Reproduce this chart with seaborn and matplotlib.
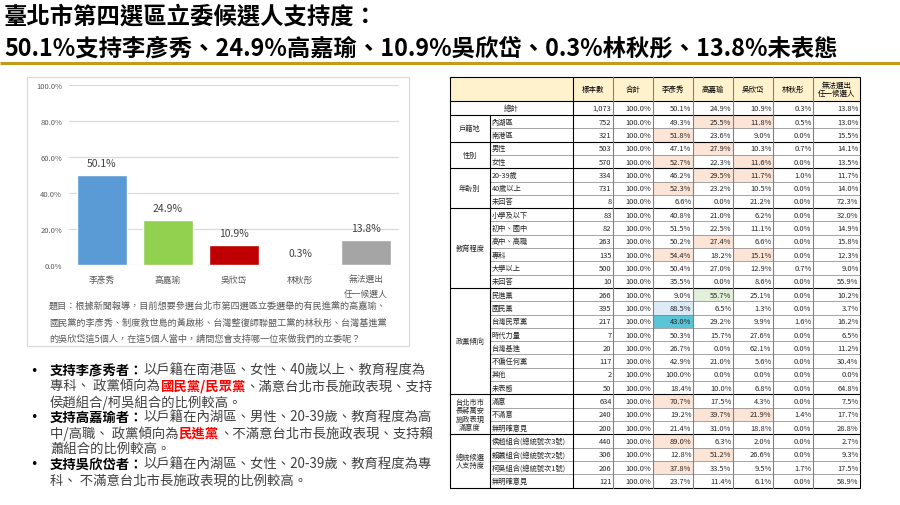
import pandas as pd
import seaborn as sns
import matplotlib.pyplot as plt
from matplotlib.patches import Rectangle

# ---- bar chart data ----
candidates = ["李彥秀", "高嘉瑜", "吳欣岱", "林秋彤", "無法選出\n任一候選人"]
support = [50.1, 24.9, 10.9, 0.3, 13.8]
bar_colors = ["#5B9BD5", "#92D050", "#C00000", "#ED7D31", "#A5A5A5"]

# ---- cross table data ----
col_heads = ["樣本數", "合計", "李彥秀", "高嘉瑜", "吳欣岱", "林秋彤", "無法選出\n任一候選人"]
total_n = 1073
total_pct = [100.0, 50.1, 24.9, 10.9, 0.3, 13.8]
groups = ["戶籍地", "性別", "年齡別", "教育程度", "政黨傾向",
          "台北市市\n長蔣萬安\n施政表現\n滿意度", "總統候選\n人支持度"]
group_sizes = [2, 2, 3, 6, 8, 3, 4]
sub_labels = ["內湖區", "南港區", "男性", "女性", "20-39歲", "40歲以上", "未回答",
              "小學及以下", "初中、國中", "高中、高職", "專科", "大學以上", "未回答",
              "民進黨", "國民黨", "台灣民眾黨", "時代力量", "台灣基進", "不偏任何黨", "其他", "未表態",
              "滿意", "不滿意", "無明確意見",
              "侯趙組合(總統號次3號)", "賴蕭組合(總統號次2號)", "柯吳組合(總統號次1號)", "無明確意見"]
n_sample = [752, 321, 503, 570, 334, 731, 8, 83, 82, 263, 135, 500, 10,
            266, 395, 217, 7, 20, 117, 2, 50, 634, 240, 200, 440, 306, 206, 121]
pct_sum = [100.0] * 28
pct_lee = [49.3, 51.8, 47.1, 52.7, 46.2, 52.3, 6.6, 40.8, 51.5, 50.2, 54.4, 50.4, 35.5,
           9.0, 88.5, 43.0, 50.3, 26.7, 42.9, 100.0, 18.4, 70.7, 19.2, 21.4, 89.0, 12.8, 37.8, 23.7]
pct_kao = [25.5, 23.6, 27.9, 22.3, 29.5, 23.2, 0.0, 21.0, 22.5, 27.4, 18.2, 27.0, 0.0,
           55.7, 6.5, 29.2, 15.7, 0.0, 21.0, 0.0, 10.0, 17.5, 39.7, 31.0, 6.3, 51.2, 33.5, 11.4]
pct_wu = [11.8, 9.0, 10.3, 11.6, 11.7, 10.5, 21.2, 6.2, 11.1, 6.6, 15.1, 12.9, 8.6,
          25.1, 1.3, 9.9, 27.6, 62.1, 5.6, 0.0, 6.8, 4.3, 21.9, 18.8, 2.0, 26.6, 9.5, 6.1]
pct_lin = [0.5, 0.0, 0.7, 0.0, 1.0, 0.0, 0.0, 0.0, 0.0, 0.0, 0.0, 0.7, 0.0,
           0.0, 0.0, 1.6, 0.0, 0.0, 0.0, 0.0, 0.0, 0.0, 1.4, 0.0, 0.0, 0.0, 1.7, 0.0]
pct_none = [13.0, 15.5, 14.1, 13.5, 11.7, 14.0, 72.3, 32.0, 14.9, 15.8, 12.3, 9.0, 55.9,
            10.2, 3.7, 16.2, 6.5, 11.2, 30.4, 0.0, 64.8, 7.5, 17.7, 28.8, 2.7, 9.3, 17.5, 58.9]
# (row, candidate) cells flagged in the source table
flag_peach = [(0, 1), (0, 2), (1, 0), (2, 1), (3, 0), (3, 2), (4, 1), (4, 2), (5, 0),
              (9, 1), (10, 0), (10, 2), (21, 0), (22, 1), (22, 2), (24, 0), (25, 1), (26, 0)]
flag_green = [(13, 1)]
flag_blue = [(14, 0)]
flag_teal = [(15, 0)]

title1 = "臺北市第四選區立委候選人支持度："
title2 = "50.1%支持李彥秀、24.9%高嘉瑜、10.9%吳欣岱、0.3%林秋彤、13.8%未表態"
question = ["題目：根據新聞報導，目前想要參選台北市第四選區立委選舉的有民進黨的高嘉瑜、",
            "國民黨的李彥秀、制度救世島的黃啟彬、台灣整復師聯盟工黨的林秋彤、台灣基進黨",
            "的吳欣岱這5個人，在這5個人當中，請問您會支持哪一位來做我們的立委呢？"]

sns.set_theme(style="white")
plt.rcParams['font.family'] = ['Noto Sans CJK TC', 'DejaVu Sans']

fig = plt.figure(figsize=(9, 5.06), dpi=100)
ov = fig.add_axes([0, 0, 1, 1])
ov.set_xlim(0, 900)
ov.set_ylim(506, 0)
ov.axis('off')
renderer = fig.canvas.get_renderer()

# title + rule
ov.text(4, 17, title1, fontsize=16.8, fontweight='bold', va='center', color='black')
ov.text(4, 49, title2, fontsize=16.8, fontweight='bold', va='center', color='black')
ov.plot([0, 900], [63.5, 63.5], color='#C49A1A', lw=2.2, solid_capstyle='butt')

# chart panel
ov.add_patch(Rectangle((27, 78), 382, 269, fill=False, edgecolor='#D9D9D9', lw=0.8))
for i, line in enumerate(question):
    ov.text(49, 306 + i * 16.8, line, fontsize=6.6, color='#595959', va='center')

# bar chart
ax = fig.add_axes([69 / 900, 1 - 266 / 506, 330 / 900, 180 / 506])
df = pd.DataFrame({"cand": candidates, "pct": support})
sns.barplot(data=df, x="cand", y="pct", hue="cand", palette=bar_colors, legend=False,
            width=0.77, saturation=1, ax=ax)
ax.set_ylim(0, 100)
ax.set_yticks(range(0, 101, 20))
ax.set_yticklabels([f"{v:.1f}%" for v in range(0, 101, 20)])
ax.yaxis.grid(True, color='#D9D9D9', lw=0.8)
ax.set_axisbelow(True)
for s in ax.spines.values():
    s.set_visible(False)
ax.patch.set_alpha(0)
ax.set_xlabel('')
ax.set_ylabel('')
ax.tick_params(axis='y', length=0, labelsize=5.5, labelcolor='#595959', pad=5)
ax.tick_params(axis='x', length=0, labelsize=6.3, labelcolor='#595959', pad=7)
for lab in ax.get_xticklabels():
    lab.set_linespacing(1.7)
    lab.set_verticalalignment('top')
for c in ax.containers:
    ax.bar_label(c, fmt="%.1f%%", padding=5, fontsize=7.5, color='#404040')

# bullets
red = '#FF0000'
txt = '#404040'
bullets = [
    [("支持李彥秀者：", 'black', 'bold'), ("以戶籍在南港區、女性、40歲以上、教育程度為", txt, 'normal')],
    [("專科、 政黨傾向為", txt, 'normal'), ("國民黨/民眾黨", red, 'bold'), ("、滿意台北市長施政表現、支持", txt, 'normal')],
    [("侯趙組合/柯吳組合的比例較高。", txt, 'normal')],
    [("支持高嘉瑜者：", 'black', 'bold'), ("以戶籍在內湖區、男性、20-39歲、教育程度為高", txt, 'normal')],
    [("中/高職、 政黨傾向為", txt, 'normal'), ("民進黨", red, 'bold'), ("、不滿意台北市長施政表現、支持賴", txt, 'normal')],
    [("蕭組合的比例較高。", txt, 'normal')],
    [("支持吳欣岱者：", 'black', 'bold'), ("以戶籍在內湖區、女性、20-39歲、教育程度為專", txt, 'normal')],
    [("科、 不滿意台北市長施政表現的比例較高。", txt, 'normal')],
]
for i, parts in enumerate(bullets):
    y = 371 + i * 15.6
    if i in (0, 3, 6):
        ov.text(30, y, "•", fontsize=9, color='black', va='center', family='DejaVu Sans')
    x = 50
    for s, color, weight in parts:
        t = ov.text(x, y, s, fontsize=9.6, color=color, fontweight=weight, va='center')
        x += t.get_window_extent(renderer).width

# cross table
col_x = [450, 490, 573, 613, 653, 693, 733, 773, 813, 860]
top, head_b, tot_b = 78, 102, 116
row_h = (488.5 - tot_b) / len(sub_labels)
row_y = [tot_b + i * row_h for i in range(len(sub_labels) + 1)]
bottom = row_y[-1]
fs = 5.4

ov.add_patch(Rectangle((col_x[0], top), col_x[-1] - col_x[0], head_b - top, color='#FFF2CC', lw=0))
fills = [(flag_peach, '#FCE4D6'), (flag_green, '#E2EFDA'), (flag_blue, '#DDEBF7'), (flag_teal, '#5BC5D8')]
for cells, colr in fills:
    for r, c in cells:
        ov.add_patch(Rectangle((col_x[4 + c], row_y[r]), col_x[5 + c] - col_x[4 + c], row_h, color=colr, lw=0))

for j, h in enumerate(col_heads):
    ov.text((col_x[2 + j] + col_x[3 + j]) / 2, (top + head_b) / 2, h, fontsize=fs,
            ha='center', va='center', color='black', linespacing=1.1)
ov.text((col_x[0] + col_x[2]) / 2, (head_b + tot_b) / 2, "總計", fontsize=fs, ha='center', va='center')
tot_vals = [f"{total_n:,}"] + [f"{v:.1f}%" for v in total_pct]
for j, v in enumerate(tot_vals):
    ov.text(col_x[3 + j] - 1.5, (head_b + tot_b) / 2, v, fontsize=fs, ha='right', va='center')

cols = [pct_sum, pct_lee, pct_kao, pct_wu, pct_lin, pct_none]
for i, lab in enumerate(sub_labels):
    yc = row_y[i] + row_h / 2
    ov.text(col_x[1] + 1.5, yc, lab, fontsize=fs - 0.2, ha='left', va='center', color='#262626')
    ov.text(col_x[3] - 1.5, yc, f"{n_sample[i]:,}", fontsize=fs, ha='right', va='center', color='#262626')
    for j, colv in enumerate(cols):
        ov.text(col_x[4 + j] - 1.5, yc, f"{colv[i]:.1f}%", fontsize=fs, ha='right', va='center', color='#262626')

# row lines and group labels
start = 0
for g, size in zip(groups, group_sizes):
    for k in range(start + 1, start + size):
        ov.plot([col_x[1], col_x[-1]], [row_y[k], row_y[k]], color='#808080', lw=0.5)
    ov.plot([col_x[0], col_x[-1]], [row_y[start], row_y[start]], color='black', lw=0.8)
    ov.text((col_x[0] + col_x[1]) / 2, (row_y[start] + row_y[start + size]) / 2, g,
            fontsize=fs - 0.2, ha='center', va='center', linespacing=1.05)
    start += size

ov.plot([col_x[0], col_x[-1]], [head_b, head_b], color='black', lw=0.8)
ov.plot([col_x[1], col_x[1]], [tot_b, bottom], color='black', lw=0.8)
ov.plot([col_x[2], col_x[2]], [top, bottom], color='black', lw=0.8)
for x in col_x[3:-1]:
    ov.plot([x, x], [top, bottom], color='#808080', lw=0.8)
ov.add_patch(Rectangle((col_x[0], top), col_x[-1] - col_x[0], bottom - top, fill=False,
                       edgecolor='black', lw=0.8))

fig.savefig('out.png', dpi=100)
